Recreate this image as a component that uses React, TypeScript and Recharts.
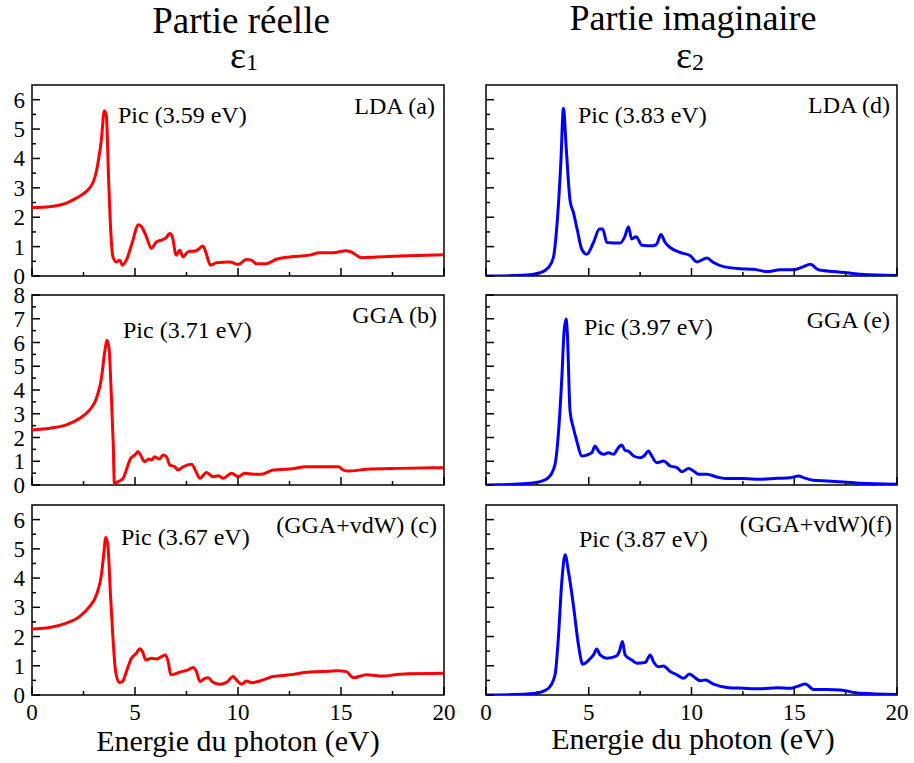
import { LineChart, Line, XAxis, YAxis, ReferenceArea } from "recharts";

const FONT = '"Liberation Serif", "Times New Roman", serif';

// x axis ticks (eV), labels only on multiples of 5
const energyTicks = [0, 2.5, 5, 7.5, 10, 12.5, 15, 17.5, 20];
const ticksTo65 = [0, 0.5, 1, 1.5, 2, 2.5, 3, 3.5, 4, 4.5, 5, 5.5, 6];
const ticksTo8 = [0, 0.5, 1, 1.5, 2, 2.5, 3, 3.5, 4, 4.5, 5, 5.5, 6, 6.5, 7, 7.5, 8];

// (a) LDA, eps1
const energyA = [0, 0.86, 1.67, 2.15, 2.64, 2.96, 3.1, 3.25, 3.37, 3.51, 3.61, 3.72, 3.82, 3.93, 4.09, 4.26, 4.39, 4.58, 4.9, 5.15, 5.31, 5.55, 5.79, 6.04, 6.36, 6.52, 6.68, 6.81, 7.0, 7.17, 7.33, 7.57, 7.98, 8.3, 8.46, 8.66, 8.95, 9.6, 10.0, 10.4, 10.65, 10.89, 11.38, 11.86, 12.5, 13.48, 13.96, 14.6, 15.26, 15.58, 15.99, 16.7, 17.85, 20];
const eps1LDA = [2.33, 2.36, 2.48, 2.65, 2.88, 3.18, 3.48, 4.05, 4.65, 5.62, 5.45, 3.28, 1.56, 0.65, 0.48, 0.54, 0.37, 0.54, 1.22, 1.74, 1.68, 1.34, 0.94, 1.16, 1.24, 1.31, 1.45, 1.34, 0.71, 0.88, 0.65, 0.82, 0.86, 1.02, 0.76, 0.37, 0.45, 0.48, 0.39, 0.56, 0.54, 0.42, 0.42, 0.57, 0.65, 0.71, 0.79, 0.79, 0.86, 0.79, 0.62, 0.65, 0.68, 0.72];

// (b) GGA, eps1
const energyB = [0, 0.86, 1.67, 2.32, 2.8, 3.13, 3.37, 3.53, 3.64, 3.74, 3.85, 3.94, 4.0, 4.18, 4.42, 4.66, 4.79, 4.99, 5.15, 5.31, 5.47, 5.68, 5.8, 5.96, 6.17, 6.36, 6.53, 6.69, 6.93, 7.09, 7.34, 7.74, 7.98, 8.15, 8.47, 8.79, 9.04, 9.28, 9.68, 10.01, 10.33, 10.74, 11.14, 11.71, 12.52, 13.33, 14.14, 14.87, 15.11, 15.35, 16.24, 17.86, 20];
const eps1GGA = [2.32, 2.39, 2.53, 2.81, 3.16, 3.65, 4.49, 5.61, 6.1, 5.75, 3.79, 1.82, 0.07, 0.14, 0.28, 0.84, 1.12, 1.26, 1.4, 1.19, 0.98, 1.09, 1.05, 1.19, 1.09, 1.26, 1.19, 0.84, 0.77, 0.63, 0.77, 0.87, 0.53, 0.28, 0.53, 0.35, 0.39, 0.28, 0.49, 0.35, 0.49, 0.45, 0.45, 0.63, 0.67, 0.77, 0.77, 0.77, 0.63, 0.59, 0.66, 0.7, 0.73];

// (c) GGA+vdW, eps1
const energyC = [0, 0.86, 1.67, 2.32, 2.8, 3.13, 3.37, 3.48, 3.58, 3.68, 3.81, 3.94, 4.06, 4.23, 4.39, 4.58, 4.83, 5.07, 5.23, 5.36, 5.52, 5.8, 6.04, 6.28, 6.48, 6.61, 6.74, 7.01, 7.26, 7.58, 7.82, 7.98, 8.15, 8.39, 8.55, 8.79, 9.12, 9.44, 9.77, 9.93, 10.17, 10.41, 10.66, 11.06, 11.71, 12.52, 13.33, 14.14, 14.79, 15.27, 15.43, 15.6, 16.24, 17.05, 17.86, 20];
const eps1VdW = [2.26, 2.31, 2.46, 2.69, 3.03, 3.43, 4.11, 4.8, 5.39, 5.14, 3.43, 1.83, 0.8, 0.43, 0.46, 0.8, 1.26, 1.43, 1.58, 1.49, 1.2, 1.26, 1.23, 1.31, 1.37, 1.14, 0.69, 0.74, 0.8, 0.86, 0.94, 0.8, 0.46, 0.57, 0.59, 0.43, 0.37, 0.43, 0.63, 0.51, 0.37, 0.48, 0.42, 0.48, 0.63, 0.69, 0.78, 0.8, 0.83, 0.8, 0.69, 0.59, 0.69, 0.65, 0.71, 0.74];

// (d) LDA, eps2
const energyD = [0, 1.98, 2.63, 3.04, 3.28, 3.47, 3.64, 3.77, 3.9, 4.09, 4.25, 4.45, 4.66, 4.9, 5.23, 5.52, 5.68, 5.88, 6.53, 6.77, 6.93, 7.09, 7.31, 7.58, 8.15, 8.31, 8.51, 8.72, 8.96, 9.45, 9.94, 10.26, 10.75, 11.07, 11.56, 12.37, 13.02, 13.67, 14.32, 14.97, 15.45, 15.78, 16.18, 16.92, 17.56, 18.21, 19.03, 20];
const eps2LDA = [0, 0.03, 0.11, 0.29, 0.63, 1.89, 3.83, 5.71, 4.4, 2.57, 2.17, 1.54, 0.91, 0.74, 1.14, 1.6, 1.6, 1.14, 1.12, 1.37, 1.68, 1.26, 1.34, 1.05, 1.03, 1.09, 1.41, 1.14, 0.97, 0.8, 0.69, 0.48, 0.61, 0.46, 0.32, 0.25, 0.23, 0.15, 0.21, 0.21, 0.32, 0.4, 0.21, 0.15, 0.11, 0.06, 0.03, 0.02];

// (e) GGA, eps2
const energyE = [0, 1.98, 2.63, 3.04, 3.36, 3.52, 3.69, 3.8, 3.9, 3.96, 4.09, 4.25, 4.42, 4.66, 4.9, 5.15, 5.31, 5.47, 5.71, 5.96, 6.2, 6.44, 6.61, 6.77, 6.93, 7.18, 7.5, 7.69, 7.91, 8.02, 8.31, 8.64, 8.96, 9.29, 9.53, 9.85, 10.1, 10.34, 10.75, 11.23, 11.72, 12.53, 13.34, 14.16, 14.81, 15.21, 15.45, 15.94, 16.59, 17.4, 18.21, 20];
const eps2GGA = [0, 0.06, 0.14, 0.31, 0.87, 2.13, 4.51, 6.47, 6.99, 6.33, 3.11, 2.41, 1.85, 1.22, 1.26, 1.36, 1.64, 1.43, 1.29, 1.36, 1.29, 1.57, 1.68, 1.46, 1.43, 1.22, 1.15, 1.22, 1.43, 1.29, 0.94, 1.01, 0.8, 0.73, 0.56, 0.69, 0.59, 0.45, 0.45, 0.34, 0.27, 0.27, 0.24, 0.28, 0.31, 0.38, 0.31, 0.2, 0.17, 0.13, 0.07, 0.03];

// (f) GGA+vdW, eps2
const energyF = [0, 1.98, 2.63, 3.04, 3.36, 3.52, 3.69, 3.85, 4.01, 4.25, 4.5, 4.71, 4.98, 5.23, 5.39, 5.55, 5.88, 6.36, 6.49, 6.64, 6.77, 7.09, 7.34, 7.74, 7.99, 8.15, 8.39, 8.64, 8.96, 9.29, 9.61, 9.9, 10.1, 10.42, 10.67, 11.07, 11.72, 12.53, 13.34, 14.16, 14.81, 15.21, 15.54, 15.94, 16.59, 17.24, 18.21, 20];
const eps2VdW = [0, 0.03, 0.09, 0.23, 0.69, 1.94, 3.89, 4.8, 4.23, 3.09, 1.71, 1.05, 1.18, 1.37, 1.57, 1.37, 1.26, 1.34, 1.49, 1.83, 1.37, 1.2, 1.09, 1.11, 1.37, 1.14, 0.97, 0.99, 0.8, 0.69, 0.57, 0.72, 0.63, 0.49, 0.51, 0.37, 0.26, 0.23, 0.21, 0.25, 0.23, 0.31, 0.38, 0.19, 0.19, 0.17, 0.06, 0.02];

const MARGIN_TOP = 16;

function XTick(props: any) {
  const { x, y, payload, showLabel } = props;
  const v = payload.value;
  const major = v % 5 === 0;
  return (
    <g>
      <line x1={x} y1={y} x2={x} y2={y - (major ? 8 : 4)} stroke="#000" strokeWidth={1.5} />
      {showLabel && major && (
        <text x={x} y={y + 25} textAnchor="middle" fontSize={23} fontFamily={FONT} fill="#000">
          {v}
        </text>
      )}
    </g>
  );
}

function YTick(props: any) {
  const { x, y, payload, showLabel } = props;
  const v = payload.value;
  const major = Number.isInteger(v);
  return (
    <g>
      <line x1={x} y1={y} x2={x + (major ? 8 : 4)} y2={y} stroke="#000" strokeWidth={1.5} />
      {showLabel && major && (
        <text x={x - 7} y={y + 8} textAnchor="end" fontSize={23} fontFamily={FONT} fill="#000">
          {v}
        </text>
      )}
    </g>
  );
}

interface PanelProps {
  left: number;
  plotTop: number;
  width: number;
  plotHeight: number;
  xs: number[];
  ys: number[];
  color: string;
  yMax: number;
  yTicks: number[];
  yLabels: boolean;
  xLabels: boolean;
}

function Panel({ left, plotTop, width, plotHeight, xs, ys, color, yMax, yTicks, yLabels, xLabels }: PanelProps) {
  const data = xs.map((x, i) => ({ x, y: ys[i] }));
  const xHeight = xLabels ? 35 : 18;
  return (
    <div style={{ position: "absolute", left, top: plotTop - MARGIN_TOP }}>
      <LineChart
        width={width}
        height={MARGIN_TOP + plotHeight + xHeight}
        data={data}
        margin={{ top: MARGIN_TOP, right: 15, left: 0, bottom: 0 }}
      >
        <XAxis
          dataKey="x"
          type="number"
          domain={[0, 20]}
          ticks={energyTicks}
          interval={0}
          allowDataOverflow
          axisLine={false}
          tickLine={false}
          tickSize={0}
          tickMargin={0}
          height={xHeight}
          tick={(p: any) => <XTick {...p} showLabel={xLabels} />}
        />
        <YAxis
          type="number"
          domain={[0, yMax]}
          ticks={yTicks}
          interval={0}
          allowDataOverflow
          axisLine={false}
          tickLine={false}
          tickSize={0}
          tickMargin={0}
          width={32}
          tick={(p: any) => <YTick {...p} showLabel={yLabels} />}
        />
        <ReferenceArea x1={0} x2={20} y1={0} y2={yMax} fill="none" stroke="#000" strokeWidth={1.5} />
        <Line
          type="monotone"
          dataKey="y"
          stroke={color}
          strokeWidth={3}
          dot={false}
          isAnimationActive={false}
        />
      </LineChart>
    </div>
  );
}

const textStyle = { fontFamily: FONT, fill: "#000" };

export default function App() {
  return (
    <div style={{ position: "absolute", left: 0, top: 0, width: 914, height: 763, background: "#fff" }}>
      <Panel left={0} plotTop={85} width={459} plotHeight={191} xs={energyA} ys={eps1LDA} color="#ff0000" yMax={6.5} yTicks={ticksTo65} yLabels xLabels={false} />
      <Panel left={0} plotTop={295} width={459} plotHeight={190} xs={energyB} ys={eps1GGA} color="#ff0000" yMax={8} yTicks={ticksTo8} yLabels xLabels={false} />
      <Panel left={0} plotTop={505} width={459} plotHeight={190} xs={energyC} ys={eps1VdW} color="#ff0000" yMax={6.5} yTicks={ticksTo65} yLabels xLabels />
      <Panel left={454} plotTop={85} width={458} plotHeight={191} xs={energyD} ys={eps2LDA} color="#0000ff" yMax={6.5} yTicks={ticksTo65} yLabels={false} xLabels={false} />
      <Panel left={454} plotTop={295} width={458} plotHeight={190} xs={energyE} ys={eps2GGA} color="#0000ff" yMax={8} yTicks={ticksTo8} yLabels={false} xLabels={false} />
      <Panel left={454} plotTop={505} width={458} plotHeight={190} xs={energyF} ys={eps2VdW} color="#0000ff" yMax={6.5} yTicks={ticksTo65} yLabels={false} xLabels />

      <svg width={914} height={763} style={{ position: "absolute", left: 0, top: 0, pointerEvents: "none" }}>
        {/* column titles */}
        <text x={241} y={33} textAnchor="middle" fontSize={37} {...textStyle}>Partie réelle</text>
        <text x={244} y={68} textAnchor="middle" fontSize={38} {...textStyle}>
          ε<tspan fontSize={24} dy={2}>1</tspan>
        </text>
        <text x={693} y={30} textAnchor="middle" fontSize={36} {...textStyle}>Partie imaginaire</text>
        <text x={690} y={68} textAnchor="middle" fontSize={38} {...textStyle}>
          ε<tspan fontSize={24} dy={2}>2</tspan>
        </text>

        {/* panel notes */}
        <text x={118} y={123} fontSize={24} {...textStyle}>Pic (3.59 eV)</text>
        <text x={435} y={114} textAnchor="end" fontSize={24} {...textStyle}>LDA (a)</text>
        <text x={578} y={123} fontSize={24} {...textStyle}>Pic (3.83 eV)</text>
        <text x={890} y={113} textAnchor="end" fontSize={24} {...textStyle}>LDA (d)</text>

        <text x={123} y={338} fontSize={24} {...textStyle}>Pic (3.71 eV)</text>
        <text x={437} y={323} textAnchor="end" fontSize={24} {...textStyle}>GGA (b)</text>
        <text x={584} y={335} fontSize={24} {...textStyle}>Pic (3.97 eV)</text>
        <text x={890} y={328} textAnchor="end" fontSize={24} {...textStyle}>GGA (e)</text>

        <text x={121} y={545} fontSize={24} {...textStyle}>Pic (3.67 eV)</text>
        <text x={437} y={533} textAnchor="end" fontSize={24} {...textStyle}>(GGA+vdW) (c)</text>
        <text x={579} y={547} fontSize={24} {...textStyle}>Pic (3.87 eV)</text>
        <text x={892} y={532} textAnchor="end" fontSize={24} {...textStyle}>(GGA+vdW)(f)</text>

        {/* axis titles */}
        <text x={238} y={751} textAnchor="middle" fontSize={30} {...textStyle}>Energie du photon (eV)</text>
        <text x={693} y={749} textAnchor="middle" fontSize={30} {...textStyle}>Energie du photon (eV)</text>
      </svg>
    </div>
  );
}
